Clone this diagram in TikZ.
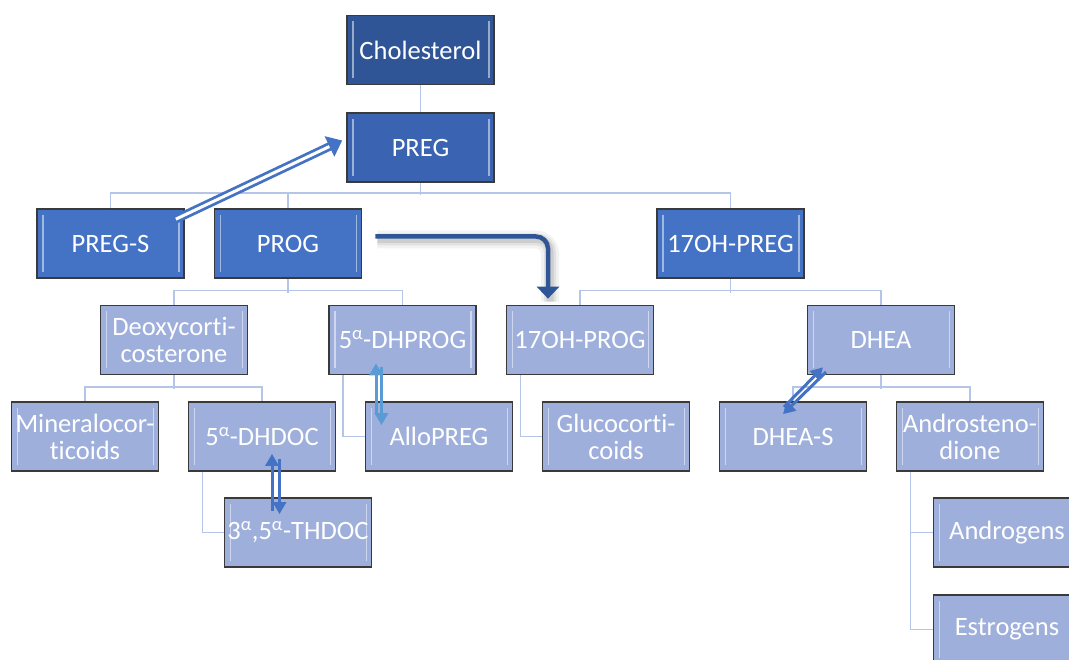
\documentclass[tikz,border=0pt]{standalone}
\usepackage{fontspec}
\setmainfont{Carlito}[Ligatures=NoCommon]
\usetikzlibrary{arrows.meta}
\definecolor{cdark}{HTML}{2F5597}
\definecolor{cmid}{HTML}{3A63B2}
\definecolor{clvtwo}{HTML}{4472C4}
\definecolor{clight}{HTML}{9EAFDB}
\definecolor{cconn}{HTML}{B4C5E7}
\definecolor{cbord}{HTML}{3A3A3A}
\definecolor{carr}{HTML}{4472C4}
\definecolor{carrlight}{HTML}{5B9BD5}
\tikzset{
  box/.style={rectangle, draw=cbord, line width=1.7pt, minimum width=147pt, minimum height=69pt,
    inner sep=0pt, text=white, font=\fontsize{26.5}{27}\selectfont, align=center,
    path picture={
      \draw[white, opacity=0.5, line width=1.5pt]
        ([xshift=6pt,yshift=-6pt]path picture bounding box.north west) --
        ([xshift=6pt,yshift=6pt]path picture bounding box.south west);
      \draw[white, opacity=0.5, line width=1.5pt]
        ([xshift=-5pt,yshift=-6pt]path picture bounding box.north east) --
        ([xshift=-5pt,yshift=6pt]path picture bounding box.south east);}},
  topbox/.style={box, fill=cdark},
  pregbox/.style={box, fill=cmid},
  lvbox/.style={box, fill=clvtwo},
  ltbox/.style={box, fill=clight},
  conn/.style={draw=cconn, line width=1.5pt},
  uparr/.style={draw=carr, line width=3pt, -{Triangle[length=12pt,width=13pt]}},
  lightarr/.style={draw=carrlight, line width=3pt, -{Triangle[length=12pt,width=13pt]}},
}
\begin{document}
\begin{tikzpicture}[x=1pt,y=-1pt]
\useasboundingbox (0,0) rectangle (1069,660);
\clip (0,0) rectangle (1069,660);
% nodes
\node[topbox] (chol) at (420.5,50) {Cholesterol};
\node[pregbox] (preg) at (420.5,147.5) {PREG};
\node[lvbox] (pregs) at (110.5,243.5) {PREG-S};
\node[lvbox] (prog) at (288,243.5) {PROG};
\node[lvbox] (ohpreg) at (730.5,243.5) {17OH-PREG};
\node[ltbox] (deoxy) at (174,340) {Deoxycorti-\\costerone};
\node[ltbox] (dhprog) at (402.5,340) {5\textsuperscript{α}-DHPROG};
\node[ltbox] (ohprog) at (580,340) {17OH-PROG};
\node[ltbox] (dhea) at (881,340) {DHEA};
\node[ltbox] (mineralo) at (85,436.5) {Mineralocor-\\ticoids};
\node[ltbox] (dhdoc) at (262,436.5) {5\textsuperscript{α}-DHDOC};
\node[ltbox] (allopreg) at (439,436.5) {AlloPREG};
\node[ltbox] (gluco) at (616,436.5) {Glucocorti-\\coids};
\node[ltbox] (dheas) at (793,436.5) {DHEA-S};
\node[ltbox] (andro) at (970,436.5) {Androsteno-\\dione};
\node[ltbox] (thdoc) at (298,532.5) {3\textsuperscript{α},5\textsuperscript{α}-THDOC};
\node[ltbox] (androgens) at (1007,532.5) {Androgens};
\node[ltbox] (estrogens) at (1007,629.5) {Estrogens};
% tree connectors
\draw[conn] (chol.south) -- (preg.north);
\draw[conn] (preg.south) -- ++(0,12);
\draw[conn] (pregs.north) -- ++(0,-15) -| (ohpreg.north);
\draw[conn] (prog.north) -- ++(0,-15);
\draw[conn] (prog.south) -- ++(0,14);
\draw[conn] (deoxy.north) -- ++(0,-14) -| (dhprog.north);
\draw[conn] (ohpreg.south) -- ++(0,14);
\draw[conn] (ohprog.north) -- ++(0,-14) -| (dhea.north);
\draw[conn] (deoxy.south) -- ++(0,14);
\draw[conn] (mineralo.north) -- ++(0,-14) -| (dhdoc.north);
\draw[conn] (dhea.south) -- ++(0,14);
\draw[conn] (dheas.north) -- ++(0,-14) -| (andro.north);
\draw[conn] ([xshift=15pt]dhprog.south west) |- (allopreg.west);
\draw[conn] ([xshift=15pt]ohprog.south west) |- (gluco.west);
\draw[conn] ([xshift=15pt]dhdoc.south west) |- (thdoc.west);
\draw[conn] ([xshift=15pt]andro.south west) |- (androgens.west);
\draw[conn] ([xshift=15pt]andro.south west) |- (estrogens.west);
% PREG-S -> PREG double arrow
\coordinate (psA) at ([xshift=-9pt,yshift=-11pt]pregs.north east);
\coordinate (psB) at ([xshift=-4pt,yshift=7pt]preg.west);
\draw[draw=carr, double=white, double distance=3pt, line width=2.8pt,
      -{Triangle[length=14pt,width=22pt]}] (psA) -- (psB);
% PROG -> 17OH-PROG bent arrow with shadow
\coordinate (pbA) at ([xshift=13pt,yshift=7pt]prog.east);
\coordinate (pbB) at ([xshift=-32pt,yshift=6pt]ohprog.north);
\coordinate (pbA2) at ([xshift=2pt,yshift=-3pt]pbA);
\coordinate (pbB2) at ([xshift=2pt,yshift=-3pt]pbB);
\draw[black, opacity=0.05, line width=18pt, rounded corners=14pt] (pbA2) -| (pbB2);
\draw[black, opacity=0.07, line width=12pt, rounded corners=13pt] (pbA2) -| (pbB2);
\draw[black, opacity=0.09, line width=7pt, rounded corners=12pt] (pbA2) -| (pbB2);
\draw[cdark, line width=4.5pt, rounded corners=12pt, -{Triangle[length=12pt,width=22pt]}] (pbA) -| (pbB);
% 5a-DHPROG <-> AlloPREG
\coordinate (daUp0) at ([xshift=-63pt,yshift=-14pt]allopreg.north);
\coordinate (daUp1) at ([xshift=-26.5pt,yshift=12pt]dhprog.south);
\coordinate (daDn0) at ([xshift=-21pt,yshift=8pt]dhprog.south);
\coordinate (daDn1) at ([xshift=-57.5pt,yshift=-24pt]allopreg.north);
\draw[lightarr] (daUp0) -- (daUp1);
\draw[lightarr] (daDn0) -- (daDn1);
% 5a-DHDOC <-> THDOC
\coordinate (ddUp0) at ([xshift=-26pt,yshift=-14pt]thdoc.north);
\coordinate (ddUp1) at ([xshift=10pt,yshift=18pt]dhdoc.south);
\coordinate (ddDn0) at ([xshift=17.5pt,yshift=13pt]dhdoc.south);
\coordinate (ddDn1) at ([xshift=-18.5pt,yshift=-17pt]thdoc.north);
\draw[uparr] (ddUp0) -- (ddUp1);
\draw[uparr] (ddDn0) -- (ddDn1);
% DHEA <-> DHEA-S
\coordinate (dhUp0) at (784,407);
\coordinate (dhUp1) at ([xshift=-58pt,yshift=8pt]dhea.south);
\coordinate (dhDn0) at (826,372);
\coordinate (dhDn1) at ([xshift=-10pt,yshift=-13pt]dheas.north);
\draw[uparr] (dhUp0) -- (dhUp1);
\draw[uparr] (dhDn0) -- (dhDn1);
\end{tikzpicture}
\end{document}
